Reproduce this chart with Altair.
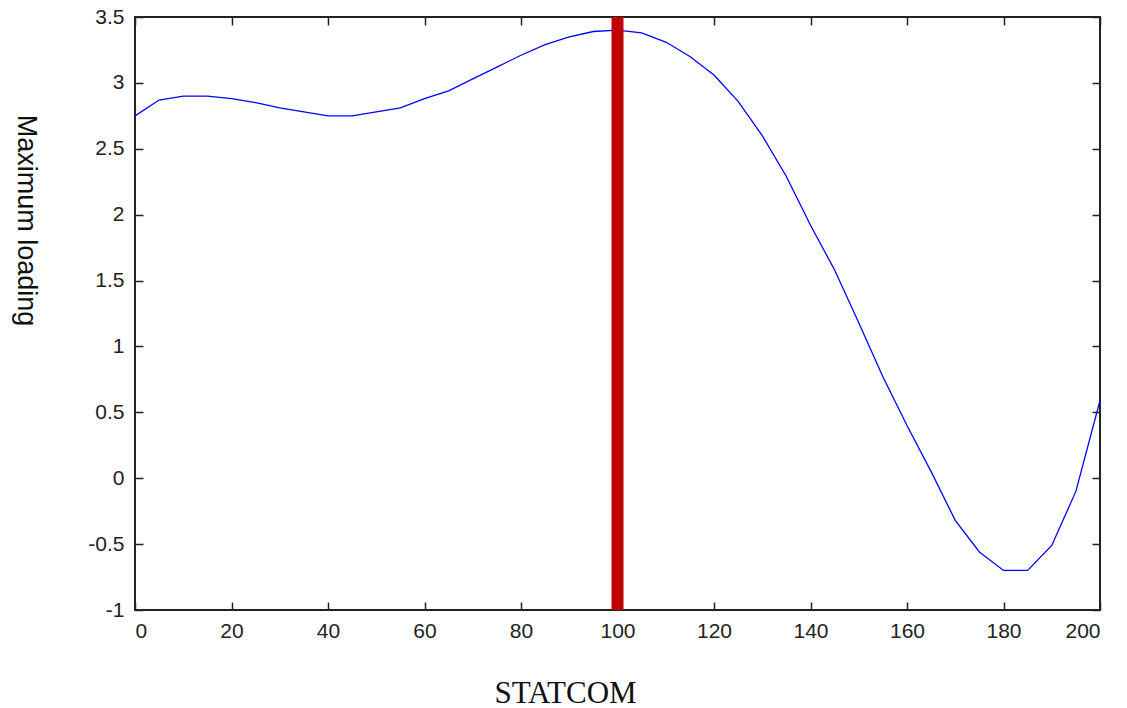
import altair as alt
import pandas as pd

statcom = list(range(0, 205, 5))
loading = [2.75, 2.87, 2.90, 2.90, 2.88, 2.85, 2.81, 2.78, 2.75, 2.75, 2.78,
           2.81, 2.88, 2.94, 3.03, 3.12, 3.21, 3.29, 3.35, 3.39, 3.40, 3.38,
           3.31, 3.20, 3.06, 2.86, 2.60, 2.29, 1.92, 1.58, 1.18, 0.77, 0.40,
           0.05, -0.32, -0.56, -0.70, -0.70, -0.51, -0.10, 0.59]
marker_x = [100]
x_ticks = list(range(0, 201, 20))
y_ticks = [-1, -0.5, 0, 0.5, 1, 1.5, 2, 2.5, 3, 3.5]

df = pd.DataFrame({"STATCOM": statcom, "loading": loading})
mk = pd.DataFrame({"STATCOM": marker_x})

W, H = 965, 593
xs = alt.Scale(domain=[0, 200], nice=False)
ys = alt.Scale(domain=[-1, 3.5], nice=False)

tick_axis = dict(labels=False, domain=False, ticks=True, tickSize=8, tickWidth=1.5,
                 tickColor="#222", title=None, grid=False)

main = alt.Chart(df).mark_line(color="#0000ff", strokeWidth=1.3).encode(
    x=alt.X("STATCOM:Q", scale=xs,
            axis=alt.Axis(orient="bottom", values=x_ticks, ticks=False, domain=False,
                          grid=False, labelExpr="'' + datum.value",
                          labelPadding=10, labelFontSize=21, labelFont="Liberation Sans",
                          labelColor="#222", title="STATCOM", titleFont="Liberation Serif",
                          titleFontSize=31, titleFontWeight="normal", titleColor="#111",
                          titleX=430, titleY=92, titleBaseline="alphabetic", titleAlign="center",
                          titleAnchor="start")),
    y=alt.Y("loading:Q", scale=ys,
            axis=alt.Axis(orient="left", values=y_ticks, ticks=False, domain=False,
                          grid=False, labelExpr="'' + datum.value",
                          labelPadding=11, labelFontSize=21, labelFont="Liberation Sans",
                          labelColor="#222", labelBaseline="middle",
                          title="Maximum loading", titleFont="Liberation Sans",
                          titleFontSize=27, titleFontWeight="normal", titleColor="#111",
                          titleAngle=90, titleX=-110, titleY=203, titleAlign="center",
                          titleBaseline="middle", titleAnchor="start")),
)

ghost1 = alt.Chart(df).mark_line(opacity=0).encode(
    x=alt.X("STATCOM:Q", scale=xs,
            axis=alt.Axis(orient="top", offset=-H, values=x_ticks, **tick_axis)),
    y=alt.Y("loading:Q", scale=ys,
            axis=alt.Axis(orient="right", offset=-W, values=y_ticks, **tick_axis)),
)

ghost2 = alt.Chart(df).mark_line(opacity=0).encode(
    x=alt.X("STATCOM:Q", scale=xs,
            axis=alt.Axis(orient="bottom", offset=-H, values=x_ticks, **tick_axis)),
    y=alt.Y("loading:Q", scale=ys,
            axis=alt.Axis(orient="left", offset=-W, values=y_ticks, **tick_axis)),
)

rule = alt.Chart(mk).mark_rule(color="#c00000", strokeWidth=12).encode(
    x=alt.X("STATCOM:Q", scale=xs, axis=None),
)

chart = alt.layer(main, ghost1, ghost2, rule).resolve_axis(
    x="independent", y="independent"
).properties(
    width=W, height=H,
    autosize=alt.AutoSizeParams(type="none"),
    padding={"left": 127, "top": 9, "right": 12, "bottom": 98},
    background="white",
).configure_view(
    stroke="#222", strokeWidth=2, fill="white"
).configure_axis(grid=False)

chart.save("out.html", embed_options={"renderer": "svg", "actions": False})
